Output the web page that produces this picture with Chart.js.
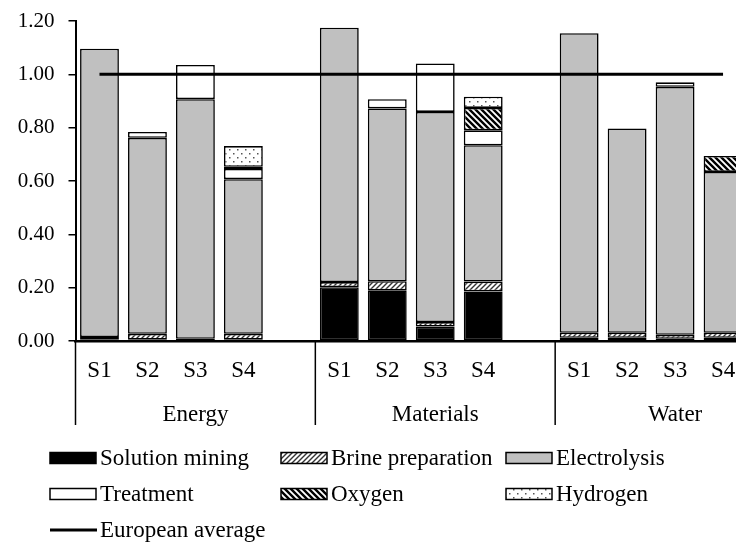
<!DOCTYPE html>
<html>
<head>
<meta charset="utf-8">
<script src="https://cdn.jsdelivr.net/npm/chart.js@4.4.0/dist/chart.umd.min.js"></script>
<style>
  html, body { margin: 0; padding: 0; background: #fff; overflow: hidden; }
  canvas { display: block; }
</style>
</head>
<body>
<canvas id="chart" width="800" height="551"></canvas>
<script>
// categories: 3 groups x 4 scenarios, with an empty slot after each group
const groups = ["Energy", "Materials", "Water"];
const scenarios = ["S1", "S2", "S3", "S4"];

// per group, values for S1..S4
const solutionMining = [
  [0.005, 0.005, 0.003, 0.005],
  [0.202, 0.190, 0.054, 0.186],
  [0.012, 0.012, 0.008, 0.012]
];
const brinePreparation = [
  [0.010, 0.022, 0.005, 0.022],
  [0.019, 0.034, 0.017, 0.037],
  [0.019, 0.019, 0.015, 0.019]
];
const electrolysis = [
  [1.081, 0.735, 0.899, 0.580],
  [0.954, 0.648, 0.788, 0.511],
  [1.123, 0.766, 0.930, 0.603]
];
const treatment = [
  [0.000, 0.022, 0.128, 0.038],
  [0.000, 0.035, 0.182, 0.056],
  [0.000, 0.000, 0.017, 0.000]
];
const oxygen = [
  [0.000, 0.000, 0.000, 0.008],
  [0.000, 0.000, 0.000, 0.084],
  [0.000, 0.000, 0.000, 0.060]
];
const hydrogen = [
  [0.000, 0.000, 0.000, 0.078],
  [0.000, 0.000, 0.000, 0.042],
  [0.000, 0.000, 0.000, 0.000]
];
const europeanAverage = 1.00;
const yTicks = [0, 0.2, 0.4, 0.6, 0.8, 1.0, 1.2];

const FONT = "'Liberation Serif', 'Times New Roman', serif";

// flatten group arrays into slots with an empty slot after each group
const labels = [];
groups.forEach(() => { scenarios.forEach(s => labels.push(s)); labels.push(""); });
function flat(arr) {
  const out = [];
  // zero segments are left out so they draw no border
  arr.forEach(g => { g.forEach(v => out.push(v > 0 ? v : null)); out.push(null); });
  return out;
}
const lineData = labels.map((l, i) => i < labels.length - 1 ? europeanAverage : null);

// hatch patterns
function makePattern(size, draw) {
  const c = document.createElement("canvas");
  c.width = size; c.height = size;
  const g = c.getContext("2d");
  g.fillStyle = "#fff";
  g.fillRect(0, 0, size, size);
  draw(g, size);
  return g.createPattern(c, "repeat");
}
const brinePattern = makePattern(5, (g, s) => {
  g.strokeStyle = "#333"; g.lineWidth = 1.4;
  g.beginPath();
  g.moveTo(0, s); g.lineTo(s, 0);
  g.moveTo(-1, 1); g.lineTo(1, -1);
  g.moveTo(s - 1, s + 1); g.lineTo(s + 1, s - 1);
  g.stroke();
});
const oxygenPattern = makePattern(6, (g, s) => {
  g.strokeStyle = "#000"; g.lineWidth = 2.4;
  g.beginPath();
  g.moveTo(0, 0); g.lineTo(s, s);
  g.moveTo(-2, s - 2); g.lineTo(2, s + 2);
  g.moveTo(s - 2, -2); g.lineTo(s + 2, 2);
  g.stroke();
});
const hydrogenPattern = makePattern(8, (g, s) => {
  g.fillStyle = "#555";
  g.fillRect(1, 1, 1.5, 1.5);
  g.fillRect(5, 5, 1.5, 1.5);
});

const barSeries = [
  { label: "Solution mining", data: solutionMining, fill: "#000" },
  { label: "Brine preparation", data: brinePreparation, fill: brinePattern },
  { label: "Electrolysis", data: electrolysis, fill: "#c0c0c0" },
  { label: "Treatment", data: treatment, fill: "#fff" },
  { label: "Oxygen", data: oxygen, fill: oxygenPattern },
  { label: "Hydrogen", data: hydrogen, fill: hydrogenPattern }
];

const datasets = [{
  type: "line",
  label: "European average",
  data: lineData,
  borderColor: "#000",
  borderWidth: 3,
  pointRadius: 0,
  fill: false,
  order: 0,
  stack: "line"
}];
barSeries.forEach(s => {
  datasets.push({
    type: "bar",
    label: s.label,
    data: flat(s.data),
    backgroundColor: s.fill,
    borderColor: "#000",
    borderWidth: 1.6,
    borderSkipped: false,
    barPercentage: 0.81,
    categoryPercentage: 1.0,
    stack: "a",
    order: 1
  });
});

// group labels, separators and legend
const extras = {
  id: "extras",
  afterDraw(chart) {
    const ctx = chart.ctx;
    const x = chart.scales.x;
    const area = chart.chartArea;
    const slot = (x.right - x.left) / labels.length;
    ctx.save();
    ctx.strokeStyle = "#000";
    ctx.lineWidth = 1.5;
    for (let g = 0; g <= groups.length; g++) {
      const sx = x.left + g * 5 * slot;
      ctx.beginPath();
      ctx.moveTo(sx, area.bottom);
      ctx.lineTo(sx, 425);
      ctx.stroke();
    }
    ctx.fillStyle = "#000";
    ctx.font = "23px " + FONT;
    ctx.textAlign = "center";
    ctx.textBaseline = "middle";
    groups.forEach((name, g) => {
      ctx.fillText(name, x.left + (g * 5 + 2.5) * slot, 415);
    });

    // legend
    const cols = [50, 281, 506];
    const rows = [458, 494, 530];
    const items = barSeries.map(s => ({ label: s.label, fill: s.fill }));
    items.push({ label: "European average", line: true });
    ctx.textAlign = "left";
    items.forEach((it, i) => {
      const cx = cols[i % 3], cy = rows[Math.floor(i / 3)];
      if (it.line) {
        ctx.lineWidth = 3;
        ctx.beginPath();
        ctx.moveTo(cx, cy); ctx.lineTo(cx + 47, cy);
        ctx.stroke();
      } else {
        ctx.fillStyle = it.fill;
        ctx.fillRect(cx, cy - 5.5, 46, 11);
        ctx.lineWidth = 1.5;
        ctx.strokeRect(cx, cy - 5.5, 46, 11);
      }
      ctx.fillStyle = "#000";
      ctx.fillText(it.label, cx + 50, cy + 1);
    });
    ctx.restore();
  }
};

new Chart(document.getElementById("chart"), {
  data: { labels, datasets },
  options: {
    responsive: false,
    animation: false,
    layout: { padding: { top: 21, right: 5, left: 0, bottom: 0 } },
    plugins: { legend: { display: false }, tooltip: { enabled: false } },
    scales: {
      x: {
        stacked: true,
        grid: { display: false, drawTicks: false },
        border: { color: "#000", width: 2.5 },
        ticks: {
          autoSkip: false,
          maxRotation: 0,
          padding: 16,
          color: "#000",
          font: { family: FONT, size: 23 }
        },
        afterFit(axis) { axis.height = 210; }
      },
      y: {
        stacked: true,
        min: 0,
        max: 1.2,
        grid: { drawOnChartArea: false, drawTicks: true, tickLength: 7, color: "#000", lineWidth: 1.5 },
        border: { color: "#000", width: 2 },
        afterBuildTicks(axis) { axis.ticks = yTicks.map(v => ({ value: v })); },
        ticks: {
          padding: 14,
          color: "#000",
          font: { family: FONT, size: 21 },
          callback: v => Number(v).toFixed(2)
        },
        afterFit(axis) {
          axis.width = 75.5;
          axis.paddingTop = 10;
          axis.paddingBottom = 10;
        }
      }
    }
  },
  plugins: [extras]
});
</script>
</body>
</html>
